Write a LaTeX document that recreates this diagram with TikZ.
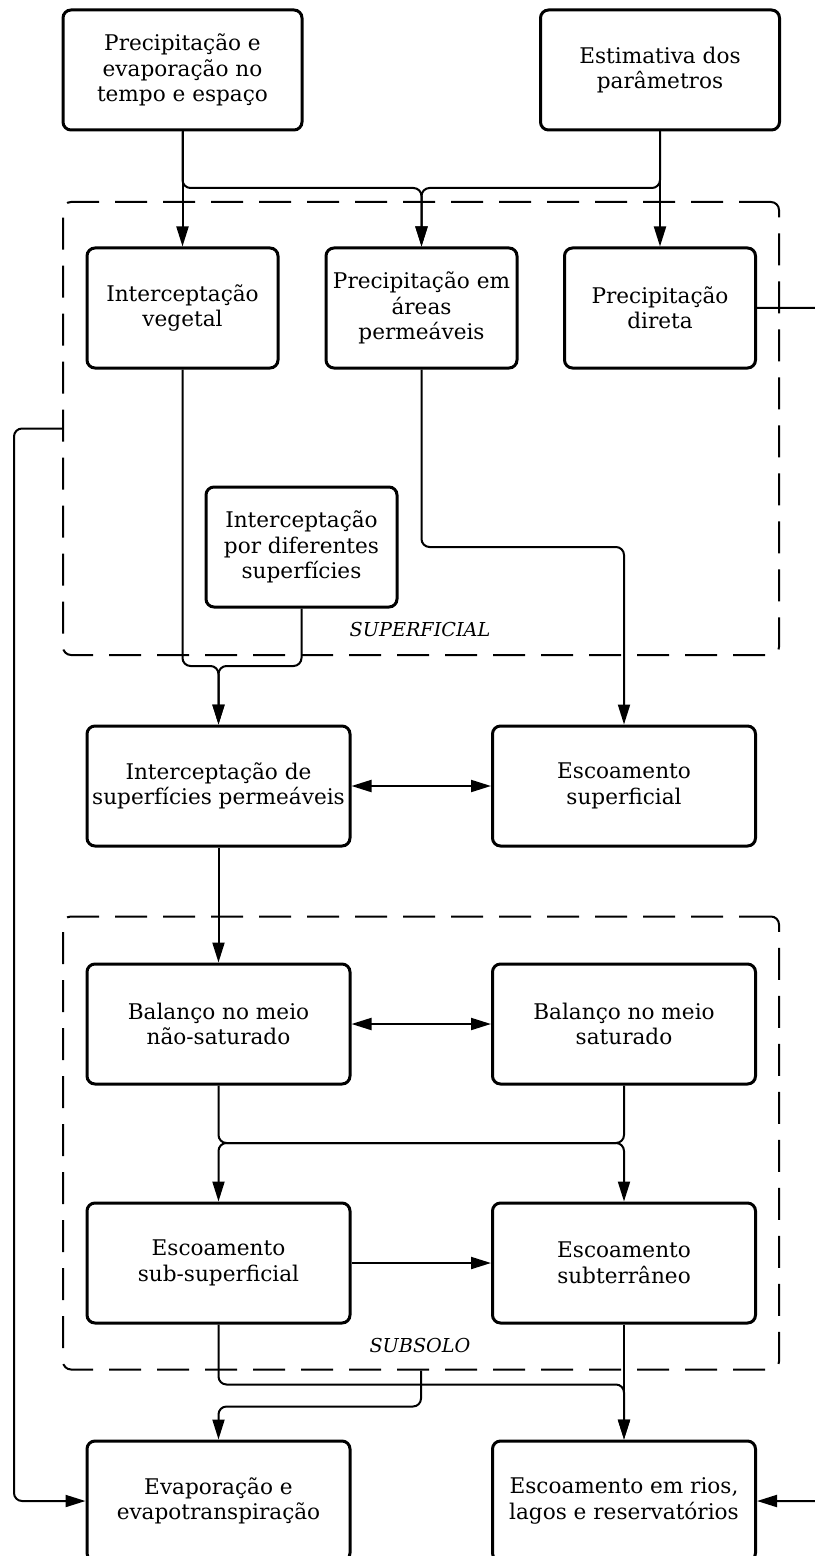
\documentclass[tikz,border=0pt]{standalone}
\usepackage{fontspec}
\setmainfont{DejaVu Serif}
\usepackage{tikz}
\usetikzlibrary{arrows.meta, positioning, calc}

\begin{document}
\begin{tikzpicture}[
    x=0.5pt, y=-0.5pt,
    font=\fontsize{10.8}{12.75}\selectfont,
    procbox/.style={draw=black, rounded corners=4pt, line width=1.5pt, minimum width=95.5pt, minimum height=60pt, align=center, inner sep=2pt},
    widebox/.style={procbox, minimum width=131.5pt},
    topbox/.style={procbox, minimum width=119.5pt},
    groupbox/.style={draw=black, rounded corners=4pt, line width=1pt, dash pattern=on 16pt off 8pt, minimum width=358pt, minimum height=226.5pt},
    grouplabel/.style={font=\fontsize{9.6}{12}\selectfont\itshape},
    flow/.style={-{Triangle[length=10pt, width=6pt]}, line width=1pt, rounded corners=4pt},
    biflow/.style={{Triangle[length=10pt, width=6pt]}-{Triangle[length=10pt, width=6pt]}, line width=1pt}
]
\useasboundingbox (0,0) rectangle (814,1556);

% === GROUPS ===
\node[groupbox] (superficial) at (421, 428.5) {};
\node[groupbox] (subsolo) at (421, 1143) {};
\node[grouplabel] at (420, 630) {SUPERFICIAL};
\node[grouplabel] at (420, 1345) {SUBSOLO};

% === INPUTS ===
\node[topbox] (precip) at (182.5, 70) {Precipitação e\\evaporação no\\tempo e espaço};
\node[topbox] (estim) at (660, 70) {Estimativa dos\\parâmetros};

% === SURFACE ===
\node[procbox] (vegetal) at (182.5, 308) {Interceptação\\vegetal};
\node[procbox] (areas) at (421.5, 308) {Precipitação em\\áreas\\permeáveis};
\node[procbox] (direta) at (660, 308) {Precipitação\\direta};
\node[procbox] (difer) at (301.5, 547) {Interceptação\\por diferentes\\superfícies};

\node[widebox] (intsup) at (218.5, 786) {Interceptação de\\superfícies permeáveis};
\node[widebox] (escsup) at (624, 786) {Escoamento\\superficial};

% === SUBSOIL ===
\node[widebox] (naosat) at (218.5, 1024) {Balanço no meio\\não-saturado};
\node[widebox] (sat) at (624, 1024) {Balanço no meio\\saturado};
\node[widebox] (subsup) at (218.5, 1263) {Escoamento\\sub-superficial};
\node[widebox] (subter) at (624, 1263) {Escoamento\\subterrâneo};

% === OUTPUTS ===
\node[widebox] (evap) at (218.5, 1501) {Evaporação e\\evapotranspiração};
\node[widebox] (rios) at (624, 1501) {Escoamento em rios,\\lagos e reservatórios};

% === JOINS ===
\coordinate (topjoin) at (421.5, 188);
\coordinate (vegjoin) at (218.5, 666);
\coordinate (areasbend) at (624, 547);
\coordinate (balL) at (218.5, 1143);
\coordinate (balR) at (624, 1143);

% === ARROWS ===
\draw[flow] (precip.south) -- (vegetal.north);
\draw[flow] (estim.south) -- (direta.north);
\draw[flow] (precip.south) |- (topjoin) -- (areas.north);
\draw[flow] (estim.south) |- (topjoin) -- (areas.north);

\draw[flow] (vegetal.south) |- (vegjoin) -- (intsup.north);
\draw[flow] (difer.south) |- (vegjoin) -- (intsup.north);
\draw[flow] (areas.south) |- (areasbend) -- (escsup.north);
\draw[biflow] (intsup.east) -- (escsup.west);

\draw[flow] (intsup.south) -- (naosat.north);
\draw[biflow] (naosat.east) -- (sat.west);
\draw[flow] (naosat.south) -- (balL) -- (balR) -- (subter.north);
\draw[flow] (sat.south) -- (balR) -- (balL) -- (subsup.north);
\draw[flow] (subsup.east) -- (subter.west);

\draw[flow] (subsup.south) -- ++(0, 60) -| (rios.north);
\draw[flow] (subter.south) -- (rios.north);
\draw[flow] (subsolo.south) -- ++(0, 36) -| (evap.north);

\draw[flow] (superficial.west) -- ++(-48, 0) |- (evap.west);
\draw[flow] (direta.east) -- ++(80, 0) |- (rios.east);

\end{tikzpicture}
\end{document}
